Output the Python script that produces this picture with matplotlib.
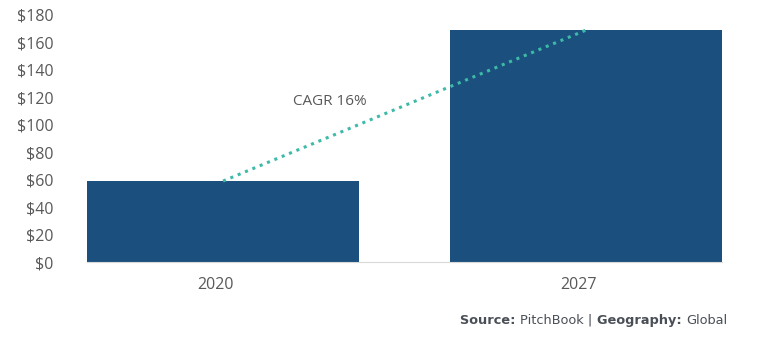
import matplotlib.pyplot as plt
import matplotlib.transforms as mtransforms
import numpy as np

# data
years = ["2020", "2027"]
values = [59, 169]
yticks = [0, 20, 40, 60, 80, 100, 120, 140, 160, 180]
cagr_label = "CAGR 16%"

plt.rcParams['font.family'] = ['Open Sans', 'DejaVu Sans']

fig = plt.figure(figsize=(7.62, 3.39), dpi=100)
ax = fig.add_axes([0.114, 0.227, 0.834, 0.729])

x = np.arange(len(years))
ax.bar(x, values, width=0.75, color='#1b4f7e', zorder=2)
# dotted CAGR line from the top of one bar to the other
ax.plot(x, values, linestyle=(0, (1, 1.6)), color='#3dbaa8', linewidth=2.2, zorder=3)
ax.text(0.295, 117, cagr_label, fontsize=11, color='#595959', ha='center', va='center')

ax.set_xlim(-0.375, 1.375)
ax.set_ylim(0, 180)
ax.set_xticks(x)
ax.set_xticklabels(years)
ax.set_yticks(yticks)
ax.set_yticklabels(["$%d" % v for v in yticks])
ax.tick_params(axis='both', length=0, labelsize=11.5, labelcolor='#595959')
ax.tick_params(axis='x', pad=11)
ax.tick_params(axis='y', pad=24)

# year labels sit a little left of the bar centres in the original
shift = mtransforms.ScaledTranslation(-8 / 100, 0, fig.dpi_scale_trans)
for lab in ax.get_xticklabels():
    lab.set_transform(lab.get_transform() + shift)

for s in ['left', 'right', 'top']:
    ax.spines[s].set_visible(False)
ax.spines['bottom'].set_color('#d9d9d9')
ax.spines['bottom'].set_linewidth(0.8)

# source line built from pieces, right-aligned
parts = [("Source: ", 'bold'), ("PitchBook | ", 'normal'), ("Geography: ", 'bold'), ("Global", 'normal')]
r = fig.canvas.get_renderer()
xpos = 0.954
for txt, w in reversed(parts):
    t = fig.text(xpos, 0.055, txt, fontsize=9.3, fontweight=w, color='#4a4f57',
                 ha='right', va='center', family='DejaVu Sans')
    bb = t.get_window_extent(renderer=r)
    xpos -= bb.width / fig.bbox.width

fig.savefig("out.png", dpi=100)
